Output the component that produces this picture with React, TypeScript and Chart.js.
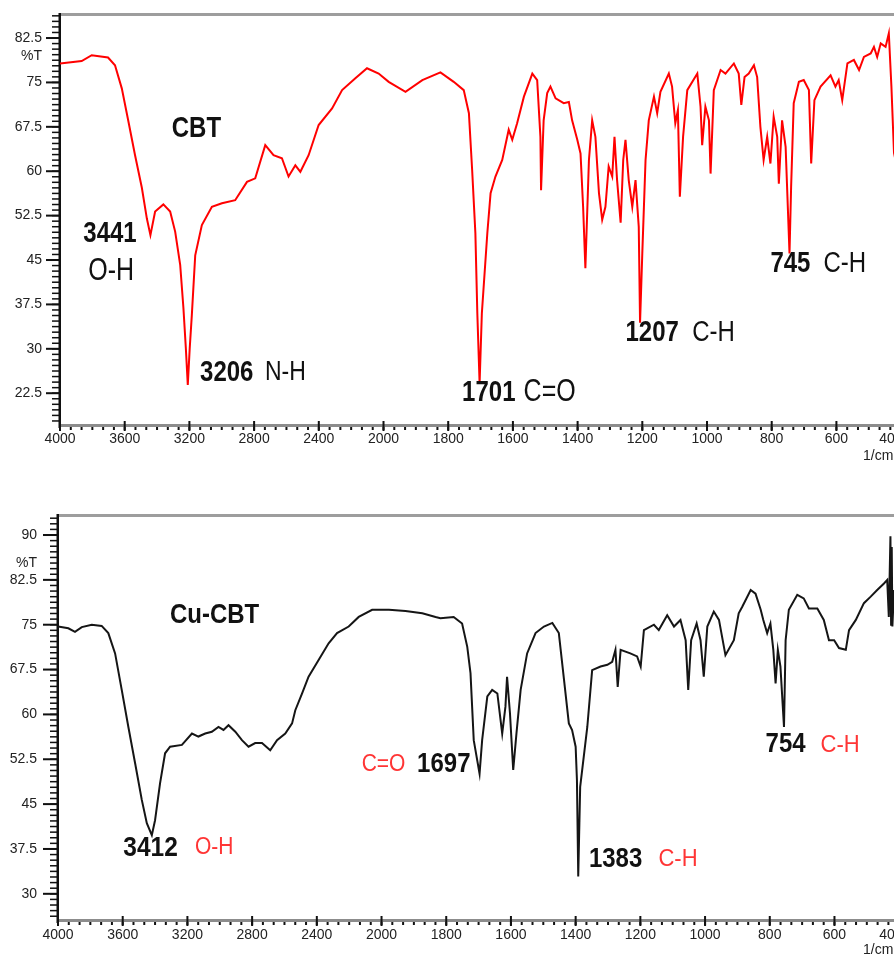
import React, { useEffect, useRef } from 'react';
import { Chart, registerables } from 'chart.js';

Chart.register(...registerables);

// ---------- data ----------
const xTickLabels = [4000, 3600, 3200, 2800, 2400, 2000, 1800, 1600, 1400, 1200, 1000, 800, 600, 400];
const cbtYTicks = [22.5, 30, 37.5, 45, 52.5, 60, 67.5, 75, 82.5];
const cuYTicks = [30, 37.5, 45, 52.5, 60, 67.5, 75, 82.5, 90];

const cbtWavenumber = [
  4000, 3866, 3804, 3703, 3660, 3618, 3577, 3536, 3494, 3463, 3441, 3412, 3361, 3319, 3288, 3257, 3237, 3222,
  3210, 3198, 3185, 3164, 3123, 3061, 2999, 2917, 2844, 2793, 2731, 2680, 2628, 2587, 2545, 2514, 2463, 2401,
  2318, 2256, 2174, 2102, 2030, 1984, 1932, 1880, 1824, 1783, 1752, 1736, 1726, 1716, 1710, 1703, 1696, 1679,
  1669, 1654, 1633, 1613, 1602, 1587, 1566, 1540, 1525, 1515, 1513, 1505, 1494, 1484, 1468, 1443, 1427, 1417,
  1401, 1391, 1383, 1376, 1365, 1355, 1345, 1334, 1324, 1314, 1304, 1293, 1286, 1278, 1267, 1259, 1252, 1242,
  1231, 1221, 1211, 1207, 1200, 1190, 1180, 1164, 1154, 1144, 1118, 1108, 1098, 1090, 1084, 1074, 1061, 1030,
  1020, 1015, 1005, 994, 989, 979, 958, 943, 917, 902, 894, 884, 871, 855, 845, 835, 825, 814, 804, 794, 783,
  778, 768, 757, 745, 740, 732, 716, 701, 685, 678, 668, 649, 618, 603, 593, 582, 566, 546, 530, 515, 494, 484,
  474, 463, 448, 438, 430, 422, 410,
];
const cbtTransmittance = [
  78.2, 78.6, 79.6, 79.2, 77.9, 74.0, 68.4, 62.7, 57.2, 52.0, 49.2, 53.2, 54.4, 53.2, 49.8, 44.2, 36.9, 30.1,
  23.9, 30.1, 35.7, 45.8, 50.9, 54.0, 54.6, 55.1, 58.2, 58.8, 64.4, 62.7, 62.2, 59.1, 61.0, 59.9, 62.7, 67.8,
  70.6, 73.7, 75.7, 77.4, 76.5, 75.1, 73.4, 75.4, 76.7, 75.1, 73.7, 69.8, 60.2, 49.5, 36.0, 24.2, 36.0, 49.6,
  56.3, 59.1, 61.9, 67.0, 65.3, 68.1, 72.6, 76.5, 75.4, 65.8, 56.8, 68.6, 73.2, 74.3, 72.3, 71.5, 71.7, 68.6,
  65.3, 63.0, 54.0, 43.6, 61.9, 68.6, 65.8, 56.3, 51.8, 54.0, 60.8, 59.1, 65.8, 58.5, 51.3, 61.9, 65.3, 58.5,
  54.0, 58.5, 50.6, 34.4, 46.2, 61.9, 68.6, 72.6, 69.8, 73.4, 76.5, 74.3, 68.1, 70.3, 55.7, 65.8, 73.7, 76.5,
  70.9, 64.4, 70.9, 68.6, 59.6, 73.7, 77.1, 76.5, 78.2, 76.5, 71.2, 75.9, 76.5, 77.9, 75.9, 67.5, 61.9, 65.8,
  61.3, 69.2, 65.8, 57.9, 68.6, 64.1, 46.1, 57.4, 71.5, 75.1, 75.4, 73.7, 61.3, 72.0, 74.3, 76.2, 74.3, 75.4,
  72.0, 78.2, 78.8, 77.1, 79.3, 79.9, 81.0, 79.3, 81.6, 81.0, 83.3, 74.3, 63.1, 60.0,
];

const cuWavenumber = [
  4000, 3936, 3895, 3853, 3791, 3730, 3689, 3647, 3606, 3565, 3523, 3482, 3451, 3420, 3400, 3369, 3338, 3307,
  3234, 3172, 3132, 3090, 3049, 3008, 2977, 2946, 2904, 2863, 2822, 2781, 2739, 2688, 2646, 2595, 2553, 2533,
  2491, 2451, 2389, 2327, 2275, 2203, 2141, 2058, 1977, 1926, 1874, 1833, 1818, 1777, 1751, 1735, 1725, 1715,
  1697, 1689, 1673, 1658, 1642, 1627, 1617, 1612, 1603, 1593, 1583, 1570, 1550, 1524, 1498, 1472, 1452, 1436,
  1421, 1411, 1400, 1396, 1392, 1386, 1364, 1349, 1323, 1302, 1287, 1277, 1270, 1261, 1231, 1210, 1199, 1189,
  1158, 1143, 1117, 1096, 1076, 1060, 1052, 1043, 1026, 1014, 1004, 993, 973, 957, 937, 911, 896, 885, 859,
  844, 828, 820, 808, 798, 789, 782, 775, 767, 756, 751, 741, 715, 695, 679, 653, 633, 617, 601, 586, 565, 555,
  534, 509, 488, 468, 447, 437, 432, 427, 425, 423, 421, 416,
];
const cuTransmittance = [
  74.7, 74.4, 73.8, 74.6, 75.0, 74.8, 73.6, 70.2, 64.1, 57.9, 51.8, 45.7, 41.8, 39.8, 42.3, 48.5, 53.5, 54.6,
  54.9, 56.8, 56.3, 56.8, 57.1, 57.9, 57.4, 58.2, 57.1, 55.7, 54.6, 55.2, 55.2, 54.0, 55.7, 56.8, 58.5, 60.7,
  63.5, 66.3, 69.1, 71.9, 73.6, 74.7, 76.3, 77.5, 77.5, 77.3, 76.9, 76.3, 76.1, 76.3, 75.2, 71.3, 66.9, 55.7,
  50.1, 55.7, 63.0, 64.1, 63.5, 56.8, 61.3, 66.3, 60.2, 50.7, 56.8, 64.1, 70.2, 73.6, 74.7, 75.3, 73.6, 65.8,
  58.5, 57.4, 54.6, 49.0, 32.9, 47.9, 57.9, 67.4, 68.0, 68.3, 68.8, 70.8, 64.6, 70.8, 70.2, 69.7, 68.0, 74.1,
  75.0, 74.1, 76.6, 74.7, 75.8, 72.4, 64.1, 72.4, 75.2, 72.4, 66.3, 74.7, 77.2, 75.8, 69.9, 72.4, 76.9, 78.0, 80.8,
  80.2, 77.5, 75.8, 73.6, 75.2, 70.8, 65.2, 70.8, 68.0, 57.9, 72.4, 77.5, 80.0, 79.4, 77.7, 77.7, 75.8, 72.4,
  72.4, 71.1, 70.8, 74.1, 75.8, 78.6, 79.7, 80.8, 81.9, 82.5, 76.3, 89.8, 75.0, 88.0, 74.7, 80.8,
];

// ---------- helpers ----------
// IR axis: 4000-2000 cm-1 drawn at half the scale of 2000-400 cm-1
const fold = (wn: number) => (wn > 2000 ? 2000 + (wn - 2000) / 2 : wn);
const unfold = (t: number) => (t > 2000 ? 2000 + (t - 2000) * 2 : t);

type Part = { wn: number; text: string; bold: boolean; color: string; size: number };
type Note = { v: number; parts: Part[] };

const DARK = '#111111';
const RED_TXT = '#ff3535';

const cbtNotes: Note[] = [
  { v: 67.13, parts: [{ wn: 3309, text: 'CBT', bold: true, color: DARK, size: 24 }] },
  { v: 49.4, parts: [{ wn: 3856, text: '3441', bold: true, color: DARK, size: 24 }] },
  { v: 43.1, parts: [{ wn: 3825, text: 'O-H', bold: false, color: DARK, size: 25 }] },
  { v: 26.0, parts: [{ wn: 3134, text: '3206', bold: true, color: DARK, size: 24 }, { wn: 2733, text: 'N-H', bold: false, color: DARK, size: 23 }] },
  { v: 22.6, parts: [{ wn: 1757, text: '1701', bold: true, color: DARK, size: 24 }, { wn: 1567, text: 'C=O', bold: false, color: DARK, size: 25 }] },
  { v: 32.75, parts: [{ wn: 1252, text: '1207', bold: true, color: DARK, size: 24 }, { wn: 1046, text: 'C-H', bold: false, color: DARK, size: 24 }] },
  { v: 44.3, parts: [{ wn: 804, text: '745', bold: true, color: DARK, size: 24 }, { wn: 640, text: 'C-H', bold: false, color: DARK, size: 24 }] },
];

const cuNotes: Note[] = [
  { v: 76.6, parts: [{ wn: 3308, text: 'Cu-CBT', bold: true, color: DARK, size: 24 }] },
  { v: 37.66, parts: [{ wn: 3596, text: '3412', bold: true, color: DARK, size: 24.5 }, { wn: 3153, text: 'O-H', bold: false, color: RED_TXT, size: 21 }] },
  { v: 51.54, parts: [{ wn: 2123, text: 'C=O', bold: false, color: RED_TXT, size: 21 }, { wn: 1890, text: '1697', bold: true, color: DARK, size: 24 }] },
  { v: 35.8, parts: [{ wn: 1359, text: '1383', bold: true, color: DARK, size: 24 }, { wn: 1144, text: 'C-H', bold: false, color: RED_TXT, size: 22 }] },
  { v: 54.9, parts: [{ wn: 813, text: '754', bold: true, color: DARK, size: 24 }, { wn: 643, text: 'C-H', bold: false, color: RED_TXT, size: 22 }] },
];

type PanelCfg = {
  height: number;
  padLeft: number;
  padTop: number;
  padBottom: number;
  yMin: number;
  yMax: number;
  tMin: number;
  yTicks: number[];
  yLabelRight: number;
  yMajorLen: number;
  xLabelOffset: number;
  percentY: number;
  cmOffset: number;
  textScaleY: number;
  notes: Note[];
  wn: number[];
  tr: number[];
  color: string;
};

const FONT = "'Liberation Sans', Arial, sans-serif";

function framePlugin(cfg: PanelCfg) {
  return {
    id: 'irFrame',
    beforeDatasetsDraw(chart: any) {
      const { ctx, chartArea: ca } = chart;
      const xs = chart.scales.x;
      const ys = chart.scales.y;
      ctx.save();
      // top border
      ctx.fillStyle = '#9d9d9d';
      ctx.fillRect(ca.left, ca.top - 2, ca.right - ca.left, 3);
      // bottom axis
      ctx.fillStyle = '#8c8c8c';
      ctx.fillRect(ca.left, ca.bottom - 1, ca.right - ca.left, 3);
      ctx.fillStyle = '#111';
      const step = 200 / 6;
      for (let t = 3000; t >= xs.min - 1; t -= step) {
        const px = xs.getPixelForValue(t);
        ctx.fillRect(px - 1, ca.bottom + 2, 2, 3);
      }
      xTickLabels.forEach((wn) => {
        const px = xs.getPixelForValue(fold(wn));
        if (px < ca.right + 20) ctx.fillRect(px - 1, ca.bottom - 4, 2, 10);
      });
      // left axis
      ctx.fillStyle = '#111';
      ctx.fillRect(ca.left - 1.5, ca.top - 2, 2.5, ca.bottom - ca.top + 5);
      const ystep = 7.5 / 8;
      for (let k = Math.ceil(ys.min / ystep); k * ystep <= ys.max; k++) {
        const py = ys.getPixelForValue(k * ystep);
        ctx.fillRect(ca.left - 8, py - 0.75, 8, 1.5);
      }
      cfg.yTicks.forEach((v) => {
        const py = ys.getPixelForValue(v);
        ctx.fillRect(ca.left - cfg.yMajorLen, py - 1, cfg.yMajorLen, 2);
      });
      // tick labels
      ctx.fillStyle = '#222';
      ctx.font = `14px ${FONT}`;
      ctx.textBaseline = 'middle';
      ctx.textAlign = 'right';
      cfg.yTicks.forEach((v) => {
        ctx.fillText(String(v), cfg.yLabelRight, ys.getPixelForValue(v));
      });
      ctx.fillText('%T', cfg.yLabelRight, cfg.percentY);
      ctx.textAlign = 'center';
      xTickLabels.forEach((wn) => {
        let px = xs.getPixelForValue(fold(wn));
        px = Math.min(px, ca.right - 3);
        ctx.fillText(String(wn), px, ca.bottom + cfg.xLabelOffset);
      });
      ctx.textAlign = 'left';
      ctx.fillText('1/cm', 863, ca.bottom + cfg.cmOffset);
      ctx.restore();
    },
    afterDraw(chart: any) {
      const { ctx } = chart;
      const xs = chart.scales.x;
      const ys = chart.scales.y;
      ctx.save();
      ctx.textBaseline = 'middle';
      ctx.textAlign = 'left';
      cfg.notes.forEach((n) => {
        const py = ys.getPixelForValue(n.v);
        n.parts.forEach((p) => {
          const px = xs.getPixelForValue(fold(p.wn));
          ctx.save();
          ctx.translate(px, py);
          ctx.scale(1, cfg.textScaleY);
          ctx.fillStyle = p.color;
          ctx.font = `${p.bold ? 'bold ' : ''}${p.size}px ${FONT}`;
          ctx.fillText(p.text, 0, 0);
          ctx.restore();
        });
      });
      ctx.restore();
    },
  };
}

function Panel({ cfg, top }: { cfg: PanelCfg; top: number }) {
  const ref = useRef<HTMLCanvasElement | null>(null);
  useEffect(() => {
    if (!ref.current) return;
    const data = cfg.wn.map((w, i) => ({ x: fold(w), y: cfg.tr[i] }));
    const chart = new Chart(ref.current, {
      type: 'line',
      data: {
        datasets: [
          {
            data,
            borderColor: cfg.color,
            borderWidth: 2,
            pointRadius: 0,
            tension: 0,
            fill: false,
          },
        ],
      },
      options: {
        responsive: false,
        animation: false,
        events: [],
        layout: { padding: { left: cfg.padLeft, top: cfg.padTop, bottom: cfg.padBottom, right: 0 } },
        plugins: { legend: { display: false }, tooltip: { enabled: false }, title: { display: false } },
        scales: {
          x: { type: 'linear', display: false, reverse: true, min: cfg.tMin, max: 3000 },
          y: { type: 'linear', display: false, min: cfg.yMin, max: cfg.yMax },
        },
      },
      plugins: [framePlugin(cfg)],
    });
    return () => chart.destroy();
  }, [cfg]);
  return (
    <canvas
      ref={ref}
      width={894}
      height={cfg.height}
      style={{ position: 'absolute', left: 0, top, width: 894, height: cfg.height, display: 'block' }}
    />
  );
}

const topCfg: PanelCfg = {
  height: 470,
  padLeft: 60,
  padTop: 15,
  padBottom: 45,
  yMin: 17.13,
  yMax: 86.39,
  tMin: 422,
  yTicks: cbtYTicks,
  yLabelRight: 42,
  yMajorLen: 14,
  xLabelOffset: 14,
  percentY: 56,
  cmOffset: 31,
  textScaleY: 1.22,
  notes: cbtNotes,
  wn: cbtWavenumber,
  tr: cbtTransmittance,
  color: '#ff0000',
};

const bottomCfg: PanelCfg = {
  height: 485,
  padLeft: 58,
  padTop: 46,
  padBottom: 35,
  yMin: 25.62,
  yMax: 93.18,
  tMin: 416,
  yTicks: cuYTicks,
  yLabelRight: 37,
  yMajorLen: 15,
  xLabelOffset: 15,
  percentY: 563 - 470,
  cmOffset: 30,
  textScaleY: 1.12,
  notes: cuNotes,
  wn: cuWavenumber,
  tr: cuTransmittance,
  color: '#151515',
};

export default function App() {
  return (
    <div style={{ position: 'absolute', left: 0, top: 0, width: 894, height: 955, overflow: 'hidden', background: '#fff' }}>
      <Panel cfg={topCfg} top={0} />
      <Panel cfg={bottomCfg} top={470} />
    </div>
  );
}
